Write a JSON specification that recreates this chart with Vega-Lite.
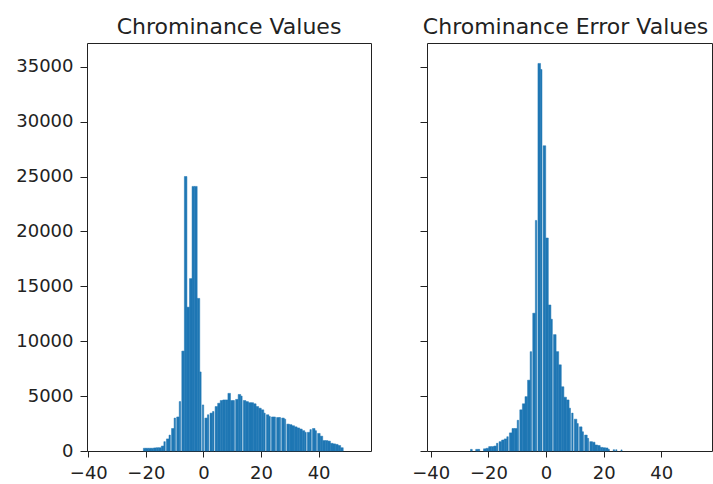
{
  "$schema": "https://vega.github.io/schema/vega-lite/v6.json",
  "padding": {"left": 15, "top": 15, "right": 0, "bottom": 0},
  "background": "white",
  "bounds": "flush",
  "spacing": 56,
  "config": {
    "font": "DejaVu Sans",
    "view": {"stroke": "#222", "strokeWidth": 1},
    "axis": {"grid": false, "domain": false, "tickColor": "#222", "labelColor": "#222", "labelFont": "DejaVu Sans", "labelFontSize": 18, "title": null},
    "title": {"font": "DejaVu Sans", "fontSize": 22, "fontWeight": "normal", "color": "#222", "offset": 4, "baseline": "alphabetic", "frame": "group", "anchor": "middle"}
  },
  "datasets": {
    "left": [
      {"lo": -20.87, "hi": -19.98, "n": 250},
      {"lo": -19.98, "hi": -19.09, "n": 250},
      {"lo": -19.09, "hi": -18.2, "n": 250},
      {"lo": -18.2, "hi": -17.31, "n": 250},
      {"lo": -17.31, "hi": -16.42, "n": 280},
      {"lo": -16.42, "hi": -15.53, "n": 300},
      {"lo": -15.53, "hi": -14.64, "n": 300},
      {"lo": -14.64, "hi": -13.75, "n": 450},
      {"lo": -13.75, "hi": -13.26, "n": 850},
      {"lo": -12.86, "hi": -11.97, "n": 1100},
      {"lo": -11.97, "hi": -11.48, "n": 1450},
      {"lo": -11.08, "hi": -10.19, "n": 2050},
      {"lo": -10.19, "hi": -9.7, "n": 3000},
      {"lo": -9.3, "hi": -8.41, "n": 3100},
      {"lo": -8.41, "hi": -7.92, "n": 4500},
      {"lo": -7.52, "hi": -6.63, "n": 9100},
      {"lo": -6.63, "hi": -5.74, "n": 25000},
      {"lo": -5.74, "hi": -4.85, "n": 13100},
      {"lo": -4.85, "hi": -3.96, "n": 15700},
      {"lo": -3.96, "hi": -3.07, "n": 24100},
      {"lo": -3.07, "hi": -2.18, "n": 24100},
      {"lo": -2.18, "hi": -1.29, "n": 13900},
      {"lo": -1.29, "hi": -0.8, "n": 7200},
      {"lo": -0.4, "hi": 0.09, "n": 4200},
      {"lo": 0.49, "hi": 1.38, "n": 3000},
      {"lo": 1.38, "hi": 1.87, "n": 3300},
      {"lo": 2.27, "hi": 3.16, "n": 3450},
      {"lo": 3.16, "hi": 3.65, "n": 3600},
      {"lo": 4.05, "hi": 4.94, "n": 4050},
      {"lo": 4.94, "hi": 5.83, "n": 4350},
      {"lo": 5.83, "hi": 6.72, "n": 4600},
      {"lo": 6.72, "hi": 7.61, "n": 4650},
      {"lo": 7.61, "hi": 8.5, "n": 4650},
      {"lo": 8.5, "hi": 9.39, "n": 5250},
      {"lo": 9.39, "hi": 10.28, "n": 4600},
      {"lo": 10.28, "hi": 10.77, "n": 4600},
      {"lo": 11.17, "hi": 12.06, "n": 4700},
      {"lo": 12.06, "hi": 12.95, "n": 5150},
      {"lo": 12.95, "hi": 13.44, "n": 5000},
      {"lo": 13.84, "hi": 14.73, "n": 4600},
      {"lo": 14.73, "hi": 15.62, "n": 4500},
      {"lo": 15.62, "hi": 16.51, "n": 4400},
      {"lo": 16.51, "hi": 17.4, "n": 4400},
      {"lo": 17.4, "hi": 18.29, "n": 4300},
      {"lo": 18.29, "hi": 19.18, "n": 4050},
      {"lo": 19.18, "hi": 20.07, "n": 3900},
      {"lo": 20.07, "hi": 20.96, "n": 3750},
      {"lo": 20.96, "hi": 21.45, "n": 3450},
      {"lo": 21.85, "hi": 22.74, "n": 3300},
      {"lo": 22.74, "hi": 23.23, "n": 3150},
      {"lo": 23.63, "hi": 24.52, "n": 3100},
      {"lo": 24.52, "hi": 25.01, "n": 3100},
      {"lo": 25.41, "hi": 26.3, "n": 3050},
      {"lo": 26.3, "hi": 26.79, "n": 3050},
      {"lo": 27.19, "hi": 28.08, "n": 3000},
      {"lo": 28.08, "hi": 28.57, "n": 2900},
      {"lo": 28.97, "hi": 29.86, "n": 2450},
      {"lo": 29.86, "hi": 30.75, "n": 2400},
      {"lo": 30.75, "hi": 31.64, "n": 2300},
      {"lo": 31.64, "hi": 32.53, "n": 2200},
      {"lo": 32.53, "hi": 33.42, "n": 2100},
      {"lo": 33.42, "hi": 34.31, "n": 2000},
      {"lo": 34.31, "hi": 35.2, "n": 1850},
      {"lo": 35.2, "hi": 35.69, "n": 1700},
      {"lo": 36.09, "hi": 36.98, "n": 1700},
      {"lo": 36.98, "hi": 37.47, "n": 1950},
      {"lo": 37.87, "hi": 38.76, "n": 2050},
      {"lo": 38.76, "hi": 39.25, "n": 1850},
      {"lo": 39.65, "hi": 40.54, "n": 1600},
      {"lo": 40.54, "hi": 41.43, "n": 1350},
      {"lo": 41.43, "hi": 42.32, "n": 950},
      {"lo": 42.32, "hi": 43.21, "n": 950},
      {"lo": 43.21, "hi": 44.1, "n": 900},
      {"lo": 44.1, "hi": 44.99, "n": 700},
      {"lo": 44.99, "hi": 45.88, "n": 650},
      {"lo": 45.88, "hi": 46.77, "n": 600},
      {"lo": 46.77, "hi": 47.66, "n": 500},
      {"lo": 47.66, "hi": 48.55, "n": 300}
    ],
    "right": [
      {"lo": -26.2, "hi": -25.6, "n": 150},
      {"lo": -24.4, "hi": -23.5, "n": 150},
      {"lo": -23.5, "hi": -23.0, "n": 150},
      {"lo": -21.7, "hi": -20.8, "n": 200},
      {"lo": -20.8, "hi": -19.9, "n": 250},
      {"lo": -19.9, "hi": -19.0, "n": 400},
      {"lo": -19.0, "hi": -18.1, "n": 400},
      {"lo": -18.1, "hi": -17.2, "n": 450},
      {"lo": -17.2, "hi": -16.7, "n": 700},
      {"lo": -16.3, "hi": -15.4, "n": 850},
      {"lo": -15.4, "hi": -14.5, "n": 1000},
      {"lo": -14.5, "hi": -13.6, "n": 1100},
      {"lo": -13.6, "hi": -13.1, "n": 1300},
      {"lo": -12.7, "hi": -11.8, "n": 1650},
      {"lo": -11.8, "hi": -10.9, "n": 2050},
      {"lo": -10.9, "hi": -10.0, "n": 2050},
      {"lo": -10.0, "hi": -9.5, "n": 2800},
      {"lo": -9.1, "hi": -8.2, "n": 3750},
      {"lo": -8.2, "hi": -7.3, "n": 4300},
      {"lo": -7.3, "hi": -6.4, "n": 4950},
      {"lo": -6.4, "hi": -5.5, "n": 6450},
      {"lo": -5.5, "hi": -5.0, "n": 9050},
      {"lo": -4.6, "hi": -3.7, "n": 12550},
      {"lo": -3.7, "hi": -3.2, "n": 21000},
      {"lo": -2.8, "hi": -1.9, "n": 35300},
      {"lo": -1.9, "hi": -1.4, "n": 34750},
      {"lo": -1.0, "hi": -0.1, "n": 27800},
      {"lo": -0.1, "hi": 0.8, "n": 19400},
      {"lo": 0.8, "hi": 1.7, "n": 13300},
      {"lo": 1.7, "hi": 2.2, "n": 12000},
      {"lo": 2.6, "hi": 3.5, "n": 10600},
      {"lo": 3.5, "hi": 4.4, "n": 9050},
      {"lo": 4.4, "hi": 5.3, "n": 7850},
      {"lo": 5.3, "hi": 6.2, "n": 5850},
      {"lo": 6.2, "hi": 7.1, "n": 4900},
      {"lo": 7.1, "hi": 8.0, "n": 4650},
      {"lo": 8.0, "hi": 8.5, "n": 3900},
      {"lo": 8.9, "hi": 9.4, "n": 3450},
      {"lo": 9.8, "hi": 10.7, "n": 2900},
      {"lo": 10.7, "hi": 11.2, "n": 2500},
      {"lo": 11.6, "hi": 12.5, "n": 2200},
      {"lo": 12.5, "hi": 13.0, "n": 1750},
      {"lo": 13.4, "hi": 14.3, "n": 1450},
      {"lo": 14.3, "hi": 14.8, "n": 1150},
      {"lo": 15.2, "hi": 16.1, "n": 850},
      {"lo": 16.1, "hi": 17.0, "n": 800},
      {"lo": 17.0, "hi": 17.9, "n": 550},
      {"lo": 17.9, "hi": 18.8, "n": 500},
      {"lo": 18.8, "hi": 19.7, "n": 330},
      {"lo": 19.7, "hi": 20.6, "n": 300},
      {"lo": 20.6, "hi": 21.5, "n": 280},
      {"lo": 21.5, "hi": 22.0, "n": 150},
      {"lo": 23.3, "hi": 23.8, "n": 120},
      {"lo": 24.2, "hi": 24.6, "n": 120},
      {"lo": 26.0, "hi": 26.4, "n": 100}
    ]
  },
  "hconcat": [
    {
      "title": "Chrominance Values",
      "width": 284,
      "height": 408,
      "data": {"name": "left"},
      "mark": {"type": "rect", "color": "#1f77b4", "stroke": "#1f77b4", "strokeWidth": 0.5},
      "encoding": {
        "x": {"field": "lo", "type": "quantitative", "scale": {"domain": [-40.45, 58.2], "nice": false, "zero": false},
              "axis": {"values": [-40, -20, 0, 20, 40], "tickSize": 6, "labelPadding": 7, "labelFlush": false}},
        "x2": {"field": "hi"},
        "y": {"field": "n", "type": "quantitative", "scale": {"domain": [0, 37160], "nice": false},
              "axis": {"values": [0, 5000, 10000, 15000, 20000, 25000, 30000, 35000], "format": "d", "tickSize": 7, "labelPadding": 7, "labelFlush": false}},
        "y2": {"datum": 0}
      }
    },
    {
      "title": {"text": "Chrominance Error Values", "dx": -4},
      "width": 285,
      "height": 408,
      "data": {"name": "right"},
      "mark": {"type": "rect", "color": "#1f77b4", "stroke": "#1f77b4", "strokeWidth": 0.5},
      "encoding": {
        "x": {"field": "lo", "type": "quantitative", "scale": {"domain": [-41.3, 57.6], "nice": false, "zero": false},
              "axis": {"values": [-40, -20, 0, 20, 40], "tickSize": 6, "labelPadding": 7, "labelFlush": false}},
        "x2": {"field": "hi"},
        "y": {"field": "n", "type": "quantitative", "scale": {"domain": [0, 37160], "nice": false},
              "axis": {"values": [0, 5000, 10000, 15000, 20000, 25000, 30000, 35000], "labels": false, "tickSize": 7}},
        "y2": {"datum": 0}
      }
    }
  ]
}
